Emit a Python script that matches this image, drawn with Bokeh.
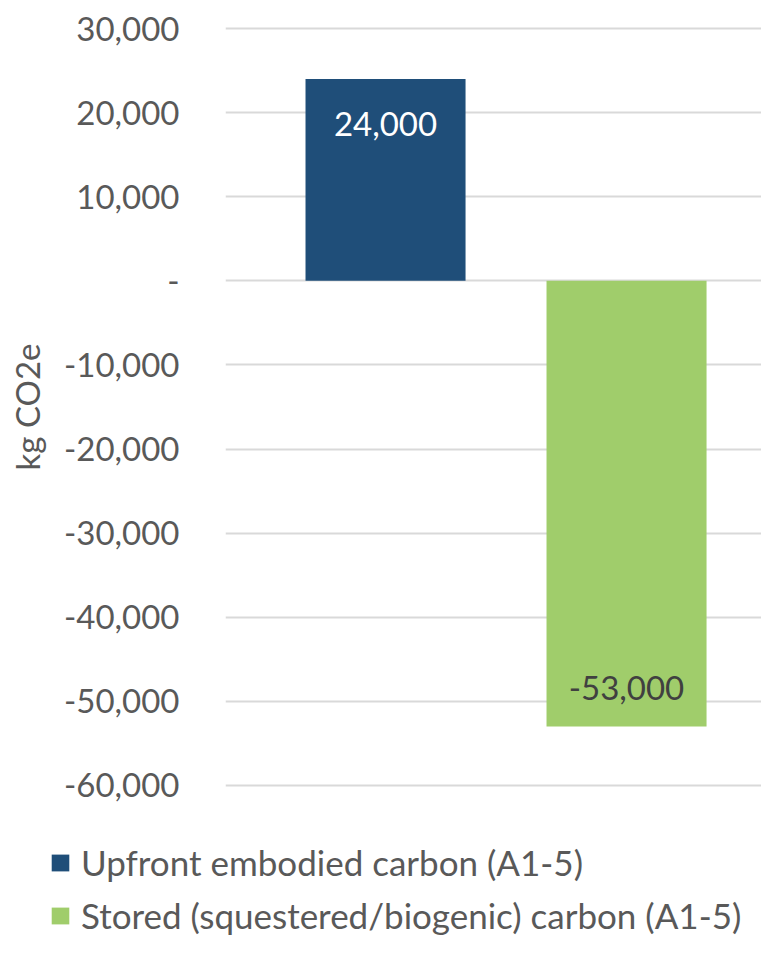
from bokeh.plotting import figure
from bokeh.layouts import column, row
from bokeh.models import (ColumnDataSource, Range1d, FixedTicker, CustomJSTickFormatter,
                          Legend, LegendItem)
from bokeh.core.properties import value
from bokeh.embed import file_html
from bokeh.resources import INLINE

# ---- data ----
categories = ["Upfront embodied carbon (A1-5)", "Stored (squestered/biogenic) carbon (A1-5)"]
values = [24000, -53000]
bar_colors = ["#1f4e79", "#a0cd6b"]
label_colors = ["#ffffff", "#404040"]
y_ticks = [-60000, -50000, -40000, -30000, -20000, -10000, 0, 10000, 20000, 30000]
y_label = "kg CO2e"

FONT = "Lato"
TXT = "#595959"
FS = "33px"

xpos = [i + 1 for i in range(len(categories))]
labels = [f"{v:,}" for v in values]
yoff = [45 if v > 0 else -39 for v in values]

src = ColumnDataSource(dict(x=xpos, top=values, color=bar_colors, label=labels,
                            lcolor=label_colors, yoff=yoff))

# ---- main chart ----
p = figure(width=761, height=830, output_backend="svg", toolbar_location=None,
           x_range=Range1d(0.336, 2.560), y_range=Range1d(-60357, 30357),
           x_axis_location=None,
           min_border_left=225, min_border_right=0, min_border_top=25, min_border_bottom=42)

p.outline_line_color = None
p.xgrid.visible = False
p.ygrid.grid_line_color = "#d9d9d9"
p.ygrid.grid_line_width = 2

ax = p.yaxis[0]
ax.ticker = FixedTicker(ticks=y_ticks)
ax.formatter = CustomJSTickFormatter(code="return tick == 0 ? '-' : tick.toLocaleString('en-US');")
ax.axis_line_color = None
ax.major_tick_line_color = None
ax.minor_tick_line_color = None
ax.major_label_standoff = 40
ax.major_label_text_font = FONT
ax.major_label_text_font_size = FS
ax.major_label_text_color = TXT
ax.axis_label = y_label
ax.axis_label_text_font = FONT
ax.axis_label_text_font_size = FS
ax.axis_label_text_font_style = "normal"
ax.axis_label_text_color = TXT
ax.axis_label_standoff = 14

p.vbar(x="x", top="top", bottom=0, width=0.664, fill_color="color", line_color=None, source=src)

p.text(x="x", y="top", text="label", text_color="lcolor", text_align="center",
       text_baseline="alphabetic", y_offset="yoff", text_font=value(FONT),
       text_font_size=FS, source=src)

# ---- legend strip (same series; its bar renderer is hidden, only the legend shows) ----
lg = figure(width=761, height=108, output_backend="svg", toolbar_location=None,
            x_range=Range1d(0, 1), y_range=Range1d(0, 1),
            x_axis_location=None, y_axis_location=None,
            min_border_left=0, min_border_right=0, min_border_top=0, min_border_bottom=0)
lg.outline_line_color = None
lg.grid.visible = False
r = lg.vbar(x="x", top="top", bottom=0, width=0.664, fill_color="color", line_color=None, source=src)
r.visible = False

items = [LegendItem(label=c, renderers=[r], index=i) for i, c in enumerate(categories)]
legend = Legend(items=items, location=(49, 0), orientation="vertical",
                label_text_font=FONT, label_text_font_size="35px", label_text_color=TXT,
                glyph_width=22, glyph_height=21, label_height=46, spacing=7,
                padding=0, margin=0, border_line_color=None, background_fill_alpha=0,
                label_standoff=10)
lg.add_layout(legend, "center")

open("out.html", "w").write(file_html(column(p, row(lg), spacing=0), INLINE))
